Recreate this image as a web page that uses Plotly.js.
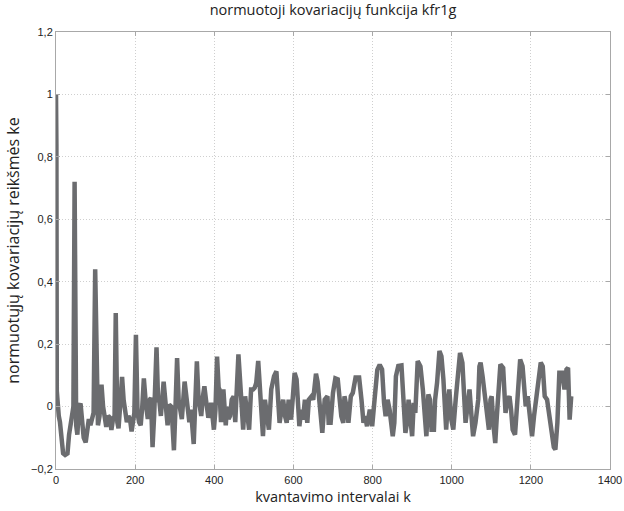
<!DOCTYPE html>
<html>
<head>
<meta charset="utf-8">
<script src="https://cdn.plot.ly/plotly-3.0.1.min.js"></script>
<style>html,body{margin:0;padding:0;background:#fff;}#chart{width:624px;height:511px;}</style>
</head>
<body>
<div id="chart"></div>
<script>
// lag index k (keypoints)
const lagK = [0,1,2,4,7,10,14,18,23,29,33,37,41,44,47,
51,54,58,62,65,70,75,79,83,87,91,95,99,
103,106,110,115,119,123,127,132,136,140,144,148,151,
155,158,162,167,171,175,179,183,187,191,195,198,202,
206,210,214,218,222,227,232,236,240,244,248,254,
258,261,265,272,278,282,286,291,294,298,302,306,
310,313,318,325,331,337,341,345,348,351,356,
360,364,367,371,375,379,385,392,396,399,403,407,
411,413,417,423,429,432,436,440,444,449,453,457,461,
464,468,473,478,484,488,493,498,502,506,511,
515,520,523,528,534,538,544,551,557,
561,565,570,574,579,583,588,594,598,603,
608,611,615,620,624,629,635,639,646,650,653,657,
661,665,669,673,679,686,689,694,700,706,
712,717,721,726,729,734,739,745,750,757,766,
772,777,781,786,793,799,805,812,818,
824,829,833,838,843,851,855,859,865,873,
878,883,887,891,895,900,904,908,914,921,
927,932,936,941,945,949,955,958,963,969,
974,979,982,986,990,994,999,1004,1010,1016,1021,
1027,1031,1035,1040,1045,1050,1054,1060,1067,1070,1073,
1078,1084,1090,1094,1098,1101,1105,1110,1114,1119,1123,
1130,1133,1136,1141,1146,1150,1154,1160,1166,1173,
1179,1183,1187,1192,1197,1203,1208,1214,1219,1225,
1230,1235,1241,1247,1253,1258,1262,1267,1272,1279,1285,1290,1294,1298,1302];

// normalised covariance values ke
const kfr1g = [1.0,0.84,0.05,-0.02,-0.03,-0.05,-0.11,-0.15,-0.155,-0.15,-0.09,-0.05,-0.03,0.0,0.72,
-0.06,-0.09,0.0,0.01,-0.05,-0.1,-0.115,-0.06,-0.04,-0.06,-0.04,-0.02,0.44,
-0.04,-0.06,-0.03,0.07,0.0,-0.04,-0.065,-0.03,-0.035,-0.075,-0.04,-0.03,0.30,
-0.05,-0.07,0.0,0.095,0.02,-0.02,-0.05,-0.03,-0.04,-0.08,-0.04,-0.02,0.23,
-0.02,-0.05,-0.06,0.0,0.09,0.01,-0.04,0.02,0.028,-0.13,-0.03,0.19,
0.02,0.02,-0.03,0.08,0.0,-0.06,0.006,0.0,-0.05,-0.14,0.0,0.155,
0.02,0.0,-0.04,0.08,0.0,-0.05,-0.01,-0.06,-0.12,-0.02,0.145,
0.03,0.0,-0.03,0.03,0.065,0.022,-0.036,0.012,-0.04,-0.074,-0.01,0.16,
0.06,0.055,-0.05,0.055,-0.06,0.0,-0.04,-0.03,0.022,0.033,-0.05,0.06,0.167,
0.108,0.022,-0.074,0.033,-0.042,-0.074,0.055,0.055,0.06,0.076,0.146,
0.055,-0.031,-0.095,0.022,-0.052,-0.074,0.055,0.097,0.113,
0.033,-0.052,-0.01,0.022,-0.031,-0.052,0.022,-0.042,0.022,0.108,
0.087,0.012,-0.063,-0.01,-0.042,0.022,-0.052,0.022,0.033,0.022,0.05,0.105,
0.08,0.022,-0.031,-0.084,0.022,0.033,-0.052,-0.052,0.044,0.09,
0.087,0.022,-0.031,-0.052,0.033,0.001,-0.052,0.033,0.044,0.093,0.093,
0.022,-0.052,-0.031,-0.063,-0.01,-0.063,0.022,0.118,0.134,
0.119,0.012,-0.031,0.022,-0.01,-0.095,-0.052,0.097,0.13,0.132,
0.012,-0.084,-0.052,0.022,-0.031,-0.095,0.012,-0.02,0.146,0.129,
0.055,-0.052,-0.095,0.039,0.022,-0.074,-0.074,0.022,0.076,0.178,
0.161,0.087,0.022,-0.074,0.012,0.055,-0.042,-0.074,0.022,0.108,0.172,
0.14,0.055,-0.052,0.001,0.055,-0.031,-0.095,-0.052,0.022,0.129,0.141,
0.097,0.022,-0.031,-0.074,0.022,0.033,-0.052,-0.117,-0.031,0.076,0.135,
0.124,0.055,-0.02,0.022,0.033,-0.01,-0.074,-0.09,0.033,0.151,
0.129,0.044,0.001,0.033,-0.031,-0.095,-0.031,0.022,0.076,0.141,
0.129,0.033,0.022,-0.031,-0.084,-0.13,-0.138,-0.052,0.108,0.108,0.055,0.119,0.124,-0.042,0.033];

const xTickVals = [0,200,400,600,800,1000,1200,1400];
const xTickText = ["0","200","400","600","800","1000","1200","1400"];
const yTickVals = [-0.2,0,0.2,0.4,0.6,0.8,1,1.2];
const yTickText = ["\u22120,2","0","0,2","0,4","0,6","0,8","1","1,2"];

const trace = {
  x: lagK, y: kfr1g, type: 'scatter', mode: 'lines',
  line: {color: '#6b6c6f', width: 4.5, shape: 'linear'},
  hoverinfo: 'x+y'
};

const axisCommon = {
  showline: true, linecolor: '#a8a8a8', linewidth: 1, mirror: 'ticks',
  ticks: 'inside', ticklen: 4, tickcolor: '#a8a8a8', tickwidth: 1,
  showgrid: true, gridcolor: '#cfcfcf', griddash: '1px,2px', gridwidth: 1,
  zeroline: false,
  tickfont: {family: 'Liberation Sans, Arial, sans-serif', size: 11, color: '#222'}
};

const layout = {
  width: 624, height: 511,
  margin: {l: 56, r: 14, t: 32, b: 42},
  paper_bgcolor: '#fff', plot_bgcolor: '#fff',
  showlegend: false,
  title: {text: 'normuotoji kovariacijų funkcija kfr1g', x: 0.5, xref: 'paper', xanchor: 'center',
          y: 1, yref: 'container', yanchor: 'top', pad: {t: 5},
          font: {family: 'Open Sans, sans-serif', size: 14.5, color: '#222'}},
  xaxis: Object.assign({}, axisCommon, {
    range: [0, 1400], tickvals: xTickVals, ticktext: xTickText, ticklabelstandoff: 1,
    title: {text: 'kvantavimo intervalai k', standoff: 6,
            font: {family: 'Open Sans, sans-serif', size: 14.5, color: '#222'}}
  }),
  yaxis: Object.assign({}, axisCommon, {
    range: [-0.2, 1.2], tickvals: yTickVals, ticktext: yTickText,
    title: {text: 'normuotųjų kovariacijų reikšmės ke', standoff: 7,
            font: {family: 'Open Sans, sans-serif', size: 16, color: '#222'}}
  })
};

Plotly.newPlot('chart', [trace], layout, {displayModeBar: false, staticPlot: true});
</script>
</body>
</html>
